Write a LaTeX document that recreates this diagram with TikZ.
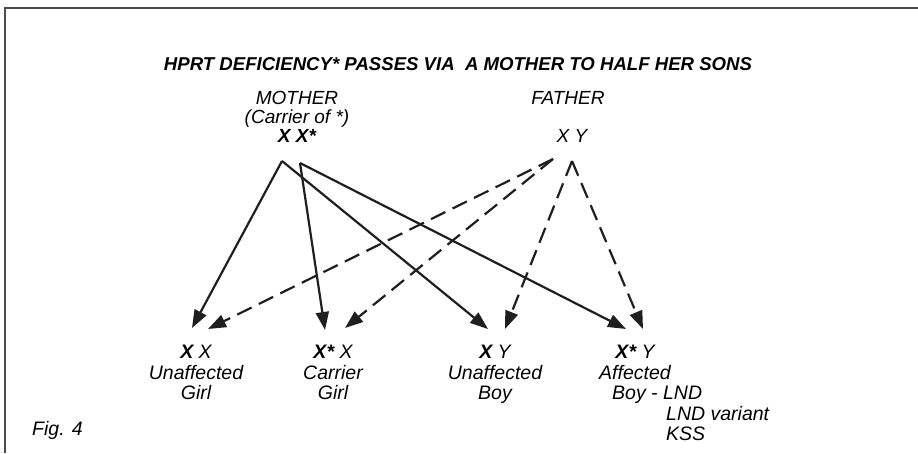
\documentclass[tikz,border=0pt]{standalone}
\usepackage{fontspec}
\setmainfont{Liberation Sans}
\usetikzlibrary{arrows.meta}
\begin{document}
\begin{tikzpicture}[x=1pt,y=-1pt,
  txt/.style={font=\fontsize{19.5}{20.4}\selectfont\itshape, inner sep=0pt, align=center, anchor=north},
  ttl/.style={font=\fontsize{18.6}{20}\selectfont\bfseries\itshape, inner sep=0pt},
  solidarr/.style={line width=2.2pt, draw=black!88, -{Triangle[length=18pt,width=13pt]}},
  dasharr/.style={solidarr, dash pattern=on 16pt off 8pt},
]
\useasboundingbox (0,0) rectangle (918,453);
\draw[line width=2pt, black!70] (4.5,453) -- (4.5,7.5) -- (918,7.5);

\node[ttl] (title) at (458,64) {HPRT DEFICIENCY* PASSES VIA\ \ A MOTHER TO HALF HER SONS};

% parents
\node[txt, font=\fontsize{19}{19.2}\selectfont\itshape] (mother) at (297,91)
  {MOTHER\\(Carrier of *)\\\textbf{X X*}};
\node[txt, font=\fontsize{19}{19.2}\selectfont\itshape] (father) at (568,91) {FATHER};
\node[txt, font=\fontsize{19}{19.2}\selectfont\itshape] (fgen) at (572,129.4) {X Y};

\coordinate (mX) at (282,161);
\coordinate (mXs) at (300,163);
\coordinate (fX) at (553,159);
\coordinate (fY) at (572,161);

% children
\node[txt] (g1) at (196,345) {\textbf{X} X\\Unaffected\\Girl};
\node[txt] (g2) at (333,345) {\textbf{X*} X\\Carrier\\Girl};
\node[txt] (b1) at (495,345) {\textbf{X} Y\\Unaffected\\Boy};
\node[txt] (b2) at (635,345) {\textbf{X*} Y\\Affected};
\node[txt, align=left, anchor=north west] (b2b) at (612,386)
  {Boy - LND\\\hspace*{54pt}LND variant\\\hspace*{54pt}KSS};

\node[txt, anchor=north west] (fig) at (32,421) {Fig. 4};

\coordinate (t1) at (192,328);
\coordinate (t2) at (208,329);
\coordinate (t3) at (325,330);
\coordinate (t4) at (345,328);
\coordinate (t5) at (488,329);
\coordinate (t6) at (505,329);
\coordinate (t7) at (626,329);
\coordinate (t8) at (643,329);

\draw[solidarr] (mX) -- (t1);
\draw[solidarr] (mX) -- (t5);
\draw[solidarr] (mXs) -- (t3);
\draw[solidarr] (mXs) -- (t7);
\draw[dasharr] (fX) -- (t2);
\draw[dasharr] (fX) -- (t4);
\draw[dasharr] (fY) -- (t6);
\draw[dasharr] (fY) -- (t8);
\end{tikzpicture}
\end{document}
